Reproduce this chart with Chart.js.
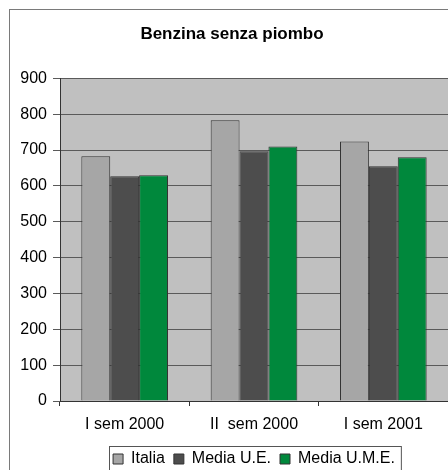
<!DOCTYPE html>
<html>
<head>
<meta charset="utf-8">
<script src="https://cdn.jsdelivr.net/npm/chart.js@4"></script>
<style>
  html, body { margin: 0; padding: 0; background: #fff; }
  #wrap { width: 448px; height: 470px; }
</style>
</head>
<body>
<div id="wrap"><canvas id="chart" width="448" height="470"></canvas></div>
<script>
// Benzina senza piombo
const categories = ['I sem 2000', 'II  sem 2000', 'I sem 2001'];
const italia = [683, 783, 724];
const mediaUE = [627, 697, 655];
const mediaUME = [630, 710, 680];
const yTicks = [0, 100, 200, 300, 400, 500, 600, 700, 800, 900];

const FONT = 'Arial, "Liberation Sans", sans-serif';

// frame round the chart, plot background and legend border
const decor = {
  id: 'decor',
  afterLayout(chart) {
    // title and legend sit a little right of the canvas centre
    chart.titleBlock.left += 8;
    chart.titleBlock.right += 8;
    chart.legend.left += 30;
    chart.legend.right += 30;
  },
  beforeDraw(chart) {
    const { ctx, chartArea: a } = chart;
    ctx.save();
    ctx.fillStyle = '#c0c0c0';
    ctx.fillRect(a.left, a.top, a.right - a.left, a.bottom - a.top);
    ctx.strokeStyle = '#7a7a7a';
    ctx.lineWidth = 1;
    ctx.strokeRect(9.5, 9.5, 600, 600);
    ctx.restore();
  },
  afterDraw(chart) {
    const { ctx } = chart;
    const boxes = chart.legend.legendHitBoxes;
    if (!boxes || !boxes.length) return;
    const left = Math.min(...boxes.map(b => b.left)) - 4;
    const right = Math.max(...boxes.map(b => b.left + b.width)) + 6;
    const mid = boxes[0].top + boxes[0].height / 2;
    ctx.save();
    ctx.strokeStyle = '#555';
    ctx.lineWidth = 1;
    ctx.strokeRect(Math.round(left) + 0.5, Math.round(mid - 13) + 0.5, right - left, 100);
    ctx.restore();
  }
};

new Chart(document.getElementById('chart'), {
  type: 'bar',
  data: {
    labels: categories,
    datasets: [
      { label: 'Italia', data: italia, backgroundColor: '#a6a6a6', borderColor: '#333', borderWidth: 1 },
      { label: 'Media U.E.', data: mediaUE, backgroundColor: '#4d4d4d', borderColor: '#333', borderWidth: 1 },
      { label: 'Media U.M.E.', data: mediaUME, backgroundColor: '#00883c', borderColor: '#333', borderWidth: 1 }
    ]
  },
  options: {
    responsive: false,
    animation: false,
    events: [],
    layout: { padding: { left: 0, right: 0, top: 0, bottom: -7 } },
    datasets: { bar: { categoryPercentage: 0.67, barPercentage: 1 } },
    plugins: {
      title: {
        display: true,
        text: 'Benzina senza piombo',
        color: '#000',
        font: { family: FONT, size: 17, weight: 'bold' },
        padding: { top: 24, bottom: 34 }
      },
      legend: {
        position: 'bottom',
        labels: {
          color: '#000',
          font: { family: FONT, size: 16 },
          boxWidth: 10,
          boxHeight: 10,
          padding: 9
        }
      },
      tooltip: { enabled: false }
    },
    scales: {
      x: {
        grid: { display: true, drawOnChartArea: false, drawTicks: true, tickLength: 5, color: '#333', offset: true },
        border: { display: true, color: '#333' },
        ticks: { color: '#000', font: { family: FONT, size: 16 }, padding: 9, maxRotation: 0 },
        afterFit(scale) { scale.height = 41; }
      },
      y: {
        min: 0,
        max: 900,
        afterBuildTicks(scale) { scale.ticks = yTicks.map(v => ({ value: v })); },
        grid: { color: '#5a5a5a', lineWidth: 1, tickLength: 7 },
        border: { display: true, color: '#333' },
        ticks: { color: '#000', font: { family: FONT, size: 16 }, padding: 6 },
        afterFit(scale) { scale.width = 60; }
      }
    }
  },
  plugins: [decor]
});
</script>
</body>
</html>
